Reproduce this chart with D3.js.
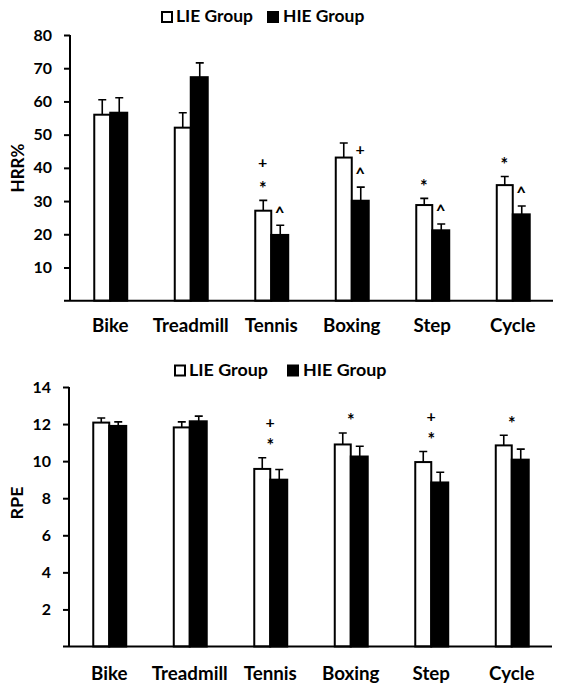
<!DOCTYPE html>
<html>
<head>
<meta charset="utf-8">
<script src="https://cdn.jsdelivr.net/npm/d3@7"></script>
<style>
  html, body { margin: 0; padding: 0; background: #fff; }
  svg { display: block; }
  text { font-family: Lato, "Open Sans", sans-serif; font-weight: 700; fill: #000; }
</style>
</head>
<body>
<script>
// ---------- data ----------
const categories = ["Bike", "Treadmill", "Tennis", "Boxing", "Step", "Cycle"];
const seriesNames = ["LIE Group", "HIE Group"];

const hrrTicks = [10, 20, 30, 40, 50, 60, 70, 80];
const hrrLIE    = [56.0, 52.1, 27.1, 43.1, 28.8, 34.8];
const hrrLIEErr = [4.5, 4.5, 3.1, 4.4, 2.0, 2.6];
const hrrHIE    = [56.6, 67.3, 19.8, 30.1, 21.2, 26.0];
const hrrHIEErr = [4.5, 4.3, 2.9, 4.1, 1.9, 2.5];

const rpeTicks = [2, 4, 6, 8, 10, 12, 14];
const rpeLIE    = [12.08, 11.82, 9.58, 10.90, 9.95, 10.85];
const rpeLIEErr = [0.25, 0.30, 0.60, 0.62, 0.57, 0.55];
const rpeHIE    = [11.90, 12.15, 9.00, 10.25, 8.85, 10.08];
const rpeHIEErr = [0.22, 0.28, 0.55, 0.55, 0.55, 0.57];

// significance markers (bottom-to-top order)
const hrrMarks = [
  { cat: "Tennis", at: "LIE", sym: ["*", "+"] },
  { cat: "Tennis", at: "HIE", sym: ["^"] },
  { cat: "Boxing", at: "HIE", sym: ["^", "+"] },
  { cat: "Step",   at: "LIE", sym: ["*"] },
  { cat: "Step",   at: "HIE", sym: ["^"] },
  { cat: "Cycle",  at: "LIE", sym: ["*"] },
  { cat: "Cycle",  at: "HIE", sym: ["^"] }
];
const rpeMarks = [
  { cat: "Tennis", at: "mid", sym: ["*", "+"] },
  { cat: "Boxing", at: "mid", sym: ["*"] },
  { cat: "Step",   at: "mid", sym: ["*", "+"] },
  { cat: "Cycle",  at: "mid", sym: ["*"] }
];

// ---------- helpers ----------
const W = 564, H = 691;
const svg = d3.select("body").append("svg").attr("width", W).attr("height", H);

function fitSize(str, target) {
  const t = svg.append("text").attr("font-size", 100).text(str);
  const w = t.node().getComputedTextLength();
  t.remove();
  return 100 * target / w;
}
const tickFS   = fitSize("80", 18.5);
const catFS    = fitSize("Treadmill", 76);
const legFSTop = fitSize("LIE Group", 77);
const legFSBot = fitSize("LIE Group", 79);
const hrrFS    = fitSize("HRR%", 49);
const rpeFS    = fitSize("RPE", 33);
const symFS = { "*": 18, "+": 16, "^": 17 };

function drawPanel(cfg) {
  const g = svg.append("g");
  const x0 = d3.scaleBand().domain(categories)
    .range([cfg.axisX, cfg.xEnd]).paddingInner(0.578).paddingOuter(0.289);
  const x1 = d3.scaleBand().domain(seriesNames).range([0, x0.bandwidth()]).padding(0);
  const y = d3.scaleLinear().domain([0, cfg.yMax]).range([cfg.y0, cfg.yTop]);

  const rows = categories.map((c, i) => ({
    cat: c,
    vals: [
      { s: seriesNames[0], v: cfg.lie[i], e: cfg.lieErr[i] },
      { s: seriesNames[1], v: cfg.hie[i], e: cfg.hieErr[i] }
    ]
  }));

  // bars
  const grp = g.selectAll("g.cat").data(rows).join("g")
    .attr("transform", d => `translate(${x0(d.cat)},0)`);
  grp.selectAll("rect").data(d => d.vals).join("rect")
    .attr("x", d => x1(d.s) + (d.s === seriesNames[0] ? 1 : 0))
    .attr("width", d => x1.bandwidth() - (d.s === seriesNames[0] ? 1 : 0))
    .attr("y", d => y(d.v))
    .attr("height", d => y(0) - y(d.v))
    .attr("fill", d => d.s === seriesNames[0] ? "#fff" : "#000")
    .attr("stroke", "#000").attr("stroke-width", 2);

  // error bars
  grp.selectAll("path.err").data(d => d.vals).join("path")
    .attr("class", "err")
    .attr("d", d => {
      const cx = x1(d.s) + x1.bandwidth() / 2 + 0.5;
      return `M${cx},${y(d.v)}V${y(d.v + d.e)}M${cx - 4},${y(d.v + d.e)}H${cx + 4}`;
    })
    .attr("fill", "none").attr("stroke", "#000").attr("stroke-width", 1.6);

  // y axis
  const yAxis = d3.axisLeft(y).tickValues(cfg.ticks).tickSize(6).tickSizeOuter(0).tickPadding(12);
  const ya = g.append("g").attr("transform", `translate(${cfg.axisX},0)`).call(yAxis);
  ya.select(".domain").attr("stroke-width", 2).attr("d", `M0,${cfg.yTop}V${cfg.y0}`);
  ya.selectAll(".tick line").attr("stroke-width", 2);
  ya.selectAll(".tick text").attr("font-size", tickFS)
    .attr("font-family", "Lato, sans-serif").attr("font-weight", 700);

  // x axis
  g.append("line").attr("x1", cfg.axisX - 6).attr("x2", cfg.xEnd)
    .attr("y1", y(0)).attr("y2", y(0)).attr("stroke", "#000").attr("stroke-width", 2);
  g.selectAll("text.cat").data(categories).join("text")
    .attr("class", "cat")
    .attr("x", d => x0(d) + x0.bandwidth() / 2)
    .attr("y", cfg.labelY)
    .attr("text-anchor", "middle").attr("font-size", catFS).text(d => d);

  // y title
  g.append("text")
    .attr("transform", `translate(${cfg.titleX},${cfg.titleY}) rotate(-90)`)
    .attr("text-anchor", "middle").attr("dy", "0.35em")
    .attr("font-size", cfg.titleFS).text(cfg.title);

  // legend
  const lg = g.append("g");
  const ls = cfg.leg;
  const sq = 10;
  lg.append("rect").attr("x", ls.x1).attr("y", ls.y - sq).attr("width", sq).attr("height", sq)
    .attr("fill", "#fff").attr("stroke", "#000").attr("stroke-width", 2);
  lg.append("text").attr("x", ls.x1 + sq + 4).attr("y", ls.y).attr("font-size", ls.fs).text(seriesNames[0]);
  lg.append("rect").attr("x", ls.x2 - 1).attr("y", ls.y - sq - 1).attr("width", sq + 2).attr("height", sq + 2)
    .attr("fill", "#000");
  lg.append("text").attr("x", ls.x2 + sq + 5).attr("y", ls.y).attr("font-size", ls.fs).text(seriesNames[1]);

  // significance markers
  const symShift = { "*": 0.58, "+": 0.34, "^": 0.55 };
  cfg.marks.forEach(m => {
    const i = categories.indexOf(m.cat);
    let cx, capV;
    if (m.at === "mid") {
      cx = x0(m.cat) + x0.bandwidth() / 2;
      capV = Math.max(cfg.lie[i] + cfg.lieErr[i], cfg.hie[i] + cfg.hieErr[i]);
    } else if (m.at === "LIE") {
      cx = x0(m.cat) + x1(seriesNames[0]) + x1.bandwidth() / 2;
      capV = cfg.lie[i] + cfg.lieErr[i];
    } else {
      cx = x0(m.cat) + x1(seriesNames[1]) + x1.bandwidth() / 2;
      capV = cfg.hie[i] + cfg.hieErr[i];
    }
    m.sym.forEach((s, k) => {
      const vc = y(capV) - cfg.markOff - k * cfg.markGap;
      g.append("text").attr("x", cx).attr("y", vc + symShift[s] * symFS[s])
        .attr("text-anchor", "middle").attr("font-size", symFS[s])
        .attr("font-family", s === "*" ? "Liberation Sans, sans-serif" : "DejaVu Sans, sans-serif")
        .attr("font-weight", 700)
        .text(s);
    });
  });
}

drawPanel({
  axisX: 70, xEnd: 553, y0: 300.7, yTop: 35, yMax: 80, ticks: hrrTicks,
  lie: hrrLIE, lieErr: hrrLIEErr, hie: hrrHIE, hieErr: hrrHIEErr,
  labelY: 331.5, title: "HRR%", titleX: 18, titleY: 168, titleFS: hrrFS,
  leg: { x1: 162, x2: 268, y: 22, fs: legFSTop },
  marks: hrrMarks, markOff: 16, markGap: 22
});

drawPanel({
  axisX: 69, xEnd: 552, y0: 646.5, yTop: 387, yMax: 14, ticks: rpeTicks,
  lie: rpeLIE, lieErr: rpeLIEErr, hie: rpeHIE, hieErr: rpeHIEErr,
  labelY: 680, title: "RPE", titleX: 17, titleY: 503, titleFS: rpeFS,
  leg: { x1: 175, x2: 288, y: 375.5, fs: legFSBot },
  marks: rpeMarks, markOff: 16, markGap: 19
});
</script>
</body>
</html>
